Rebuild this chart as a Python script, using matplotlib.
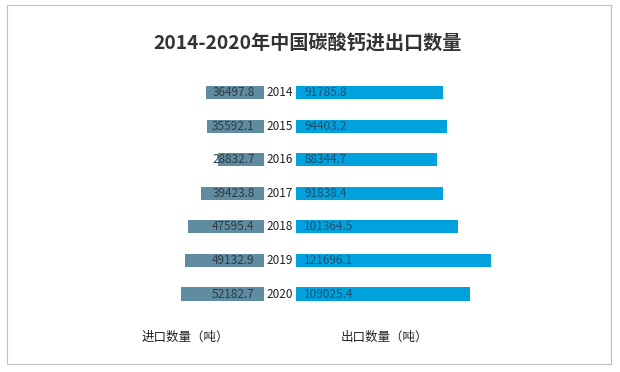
import matplotlib
matplotlib.use("Agg")
import matplotlib.pyplot as plt
from matplotlib.patches import Rectangle

plt.rcParams['font.family'] = ['Noto Sans CJK SC', 'DejaVu Sans']

years = ['2014', '2015', '2016', '2017', '2018', '2019', '2020']
imports = [36497.8, 35592.1, 28832.7, 39423.8, 47595.4, 49132.9, 52182.7]
exports = [91785.8, 94403.2, 88344.7, 91838.4, 101364.5, 121696.1, 109025.4]
title = '2014-2020年中国碳酸钙进出口数量'
import_label = '进口数量（吨）'
export_label = '出口数量（吨）'

W, H = 620, 372
fig = plt.figure(figsize=(W / 100, H / 100), dpi=100)

# border
fig.patches.append(Rectangle((7 / W, 1 - 364 / H), 604 / W, 359 / H,
                             transform=fig.transFigure, fill=False,
                             edgecolor='#BFBFBF', linewidth=0.8))

scale = 0.0016  # px per unit
top_px, bot_px = 75.7, 310.8
bottom = 1 - bot_px / H
height = (bot_px - top_px) / H

lx0, lx1 = 130, 264
rx0, rx1 = 296, 520
axl = fig.add_axes([lx0 / W, bottom, (lx1 - lx0) / W, height])
axr = fig.add_axes([rx0 / W, bottom, (rx1 - rx0) / W, height])

ypos = list(range(len(years)))
axl.barh(ypos, imports, height=0.39, color='#5F8CA0')
axr.barh(ypos, exports, height=0.39, color='#00A2DD')
axl.set_xlim((lx1 - lx0) / scale, 0)
axr.set_xlim(0, (rx1 - rx0) / scale)
for ax in (axl, axr):
    ax.set_ylim(len(years) - 0.5, -0.5)
    ax.axis('off')

for i, (v, e) in enumerate(zip(imports, exports)):
    axl.annotate(f'{v}', (0, i), xytext=(-6.8, 0), textcoords='offset points',
                 ha='right', va='center', fontsize=8.5, color='#2F3B45')
    axr.annotate(f'{e}', (0, i), xytext=(5.8, 0), textcoords='offset points',
                 ha='left', va='center', fontsize=8.5, color='#1F4E6E')
    axl.annotate(years[i], (0, i), xytext=(2.0, 0), textcoords='offset points',
                 ha='left', va='center', fontsize=8.5, color='#222222')

fig.text(307 / W, 1 - 44 / H, title, ha='center', va='center',
         fontsize=13.8, fontweight='bold', color='#333333')
fig.text(185.5 / W, 1 - 337 / H, import_label, ha='center', va='center',
         fontsize=9.0, color='#222222')
fig.text(384 / W, 1 - 337 / H, export_label, ha='center', va='center',
         fontsize=9.0, color='#222222')

fig.savefig('out.png', dpi=100)
